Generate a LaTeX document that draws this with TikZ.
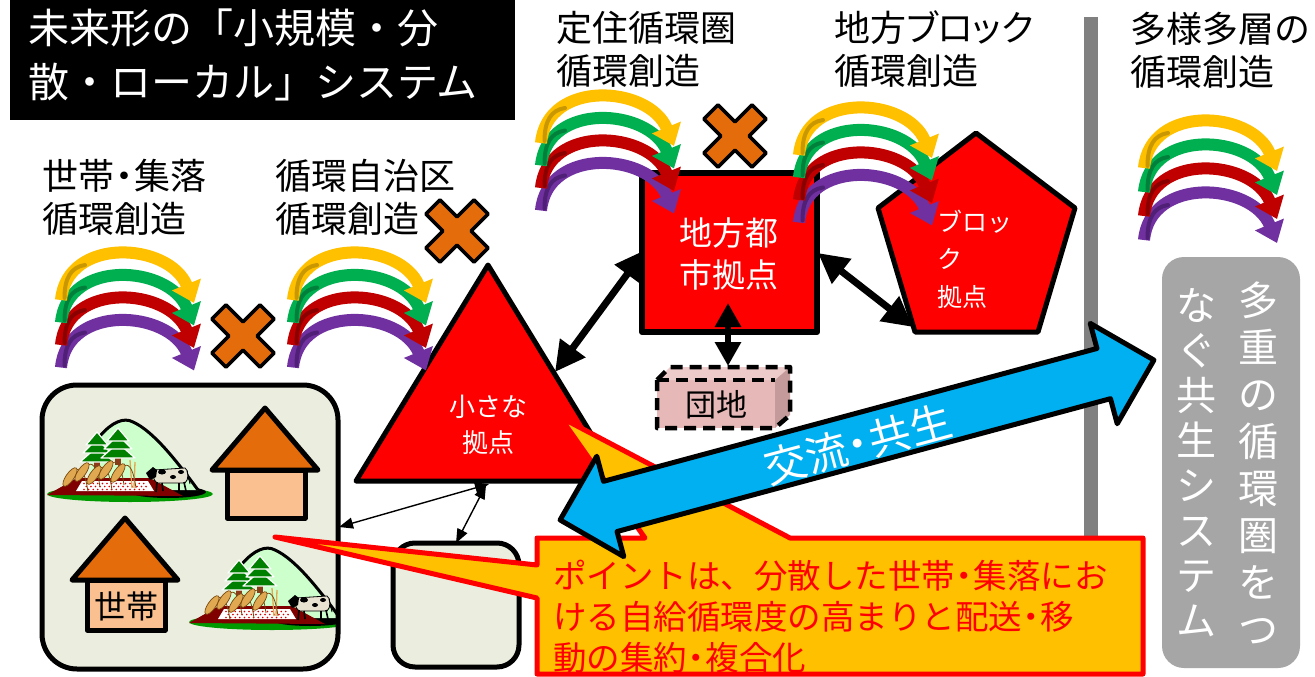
\documentclass[tikz,border=0pt]{standalone}
\usepackage{fontspec}
\newfontfamily\jp{Noto Sans CJK JP}
\usetikzlibrary{arrows.meta}

% tight middle dot
\newcommand\tdot{\kern-0.22em・\kern-0.22em}

\definecolor{hubred}{HTML}{FF0000}
\definecolor{xorange}{HTML}{E46C0A}
\definecolor{roof}{HTML}{E46C0A}
\definecolor{wall}{HTML}{FAC090}
\definecolor{pale}{HTML}{EBEEDF}
\definecolor{dfront}{HTML}{E6B9B8}
\definecolor{dtop}{HTML}{EDCBCA}
\definecolor{dside}{HTML}{C49B9A}
\definecolor{notefill}{HTML}{FFC000}
\definecolor{flow}{HTML}{00B0F0}
\definecolor{railgray}{HTML}{808080}
\definecolor{panelgray}{HTML}{A6A6A6}
\definecolor{lyel}{HTML}{FFC000}\definecolor{dyel}{HTML}{C99700}
\definecolor{lgrn}{HTML}{00B050}\definecolor{dgrn}{HTML}{00803A}
\definecolor{lred}{HTML}{C00000}\definecolor{dred}{HTML}{8A0000}
\definecolor{lpur}{HTML}{7030A0}\definecolor{dpur}{HTML}{4F2075}
\definecolor{grass}{HTML}{009A00}
\definecolor{hill}{HTML}{CCFFCC}
\definecolor{field}{HTML}{800000}
\definecolor{pine}{HTML}{008000}
\definecolor{trunk}{HTML}{8B3A1A}
\definecolor{grain}{HTML}{E0A850}
\definecolor{graindark}{HTML}{7A4A10}
\definecolor{cowhide}{HTML}{E8E2D0}

\tikzset{
  lbl/.style={anchor=west,align=left,inner sep=0pt,font=\jp\fontsize{36}{43}\selectfont},
  titletxt/.style={anchor=west,align=left,inner sep=0pt,text=white,font=\jp\fontsize{41}{54}\selectfont},
  hubtxt/.style={align=center,inner sep=0pt,text=white},
  hubshape/.style={draw=black,line width=5,fill=hubred},
  loopline/.style={line width=12,-{Triangle[width=30pt,length=20pt]}},
  bigtip/.style={line width=7,{Triangle[width=30pt,length=30pt]}-{Triangle[width=30pt,length=30pt]}},
  midtip/.style={line width=6,{Triangle[width=25pt,length=24pt]}-{Triangle[width=25pt,length=24pt]}},
  smalltip/.style={line width=1.4,{Triangle[width=11pt,length=14pt]}-{Triangle[width=11pt,length=14pt]}},
  panel/.style={draw=black,line width=5,fill=pale},
  housepart/.style={draw=black,line width=5},
  vtxt/.style={align=center,inner sep=0pt,text=white,font=\jp\fontsize{40}{47}\selectfont},
}

% four stacked circulation loops; #1,#2 = foot of the top loop, #3 = vertical gap
\newcommand\loopset[3]{%
  \begin{scope}[shift={(#1,#2)}]
    \foreach \lc/\dc/\k in {lpur/dpur/3,lred/dred/2,lgrn/dgrn/1,lyel/dyel/0}{
      \pgfmathsetmacro\dy{\k*#3}
      \draw[loopline,\lc] (0,\dy) .. controls (6,{\dy-64}) and (108,{\dy-58}) .. (133,{\dy+3});
      \draw[\dc,line width=4,line cap=round] (3.5,{\dy-2}) .. controls (3.5,{\dy-22}) and (10,{\dy-33}) .. (24,{\dy-35});
    }
  \end{scope}}

% orange cross mark
\newcommand\crossat[2]{%
  \begin{scope}[shift={(#1,#2)},rotate=45]
    \draw[fill=xorange,line width=3.5] (10,10) -- (10,34) -- (-10,34) -- (-10,10) -- (-34,10) -- (-34,-10)
      -- (-10,-10) -- (-10,-34) -- (10,-34) -- (10,-10) -- (34,-10) -- (34,10) -- cycle;
  \end{scope}}

% farm scene: hill, trees, rice, cow
\newcommand\farmscene[2]{%
  \begin{scope}[shift={(#1,#2)}]
    \fill[grass] (90,114) ellipse [x radius=83, y radius=8];
    \fill[black] (128,112) ellipse [x radius=38, y radius=6];
    \fill[hill] (45,110) -- (56,62) .. controls (70,42) and (84,37) .. (93,42)
      .. controls (113,51) and (136,80) .. (158,110) -- cycle;
    \draw[line width=3] (60,56) .. controls (72,42) and (84,37) .. (93,42)
      .. controls (113,51) and (136,80) .. (158,110);
    \fill[field] (7,115) -- (37,98) -- (110,98) -- (143,116) -- cycle;
    \fill[white] (36,111) -- (42,101) -- (108,101) -- (114,111) -- cycle;
    \foreach \i in {0,...,13}{\foreach \j in {0,1,2}{
      \fill[red!85!black] ({44+\i*4.6+mod(\j,2)*2.3},{103.5+\j*3}) circle (0.9);}}
    \foreach \tx/\ty in {57/52,78/48}{
      \fill[trunk] ({\tx-3},{\ty+28}) rectangle ({\tx+3},{\ty+37});
      \filldraw[fill=pine,draw=white,line width=1.2] (\tx,{\ty+15}) -- ({\tx+17},{\ty+30}) -- ({\tx-17},{\ty+30}) -- cycle;
      \filldraw[fill=pine,draw=white,line width=1.2] (\tx,{\ty+7}) -- ({\tx+14},{\ty+21}) -- ({\tx-14},{\ty+21}) -- cycle;
      \filldraw[fill=pine,draw=white,line width=1.2] (\tx,\ty) -- ({\tx+11},{\ty+13}) -- ({\tx-11},{\ty+13}) -- cycle;
    }
    \draw[grain,line width=1.3] (90,80) -- (92,108) (95,82) -- (94,108);
    \foreach \gx/\gy in {30/97,42/92,54/95,66/90,78/93}{
      \draw[graindark,line width=0.8] ({\gx+6},{\gy-7}) .. controls ({\gx+12},{\gy-11}) and ({\gx+16},\gy) .. ({\gx+18},{\gy+15});
      \filldraw[fill=grain,draw=graindark,line width=0.7,rotate around={55:(\gx,\gy)}] (\gx,\gy) ellipse [x radius=11, y radius=4];
    }
    \filldraw[fill=cowhide,draw=black,line width=0.8] (114,90) -- (145,88) .. controls (149,90) and (149,100) .. (145,103)
      -- (117,103) .. controls (113,100) and (112,94) .. (114,90) -- cycle;
    \fill[black] (122,92) ellipse [x radius=4, y radius=2.5] (133,97) ellipse [x radius=3, y radius=2]
      (141,92) ellipse [x radius=3, y radius=2];
    \fill[black] (106,93) -- (113,87) -- (117,90) -- (116,97) -- (110,100) -- cycle;
    \draw[line width=1.6] (117,102) -- (116,112) (122,103) -- (123,111) (139,103) -- (139,112) (144,102) -- (146,111);
    \draw[line width=0.8] (147,91) -- (150,104);
  \end{scope}}

\begin{document}
\begin{tikzpicture}[x=1pt,y=-1pt,line join=round]
\useasboundingbox (0,0) rectangle (1315,677);
\fill[white] (0,0) rectangle (1315,677);

% title block
\fill[black] (10,0) rectangle (515,120);
\node[titletxt] (title) at (28,55) {未来形の「小規模・分\\散・ローカル」システム};

% level captions
\node[lbl] (lab1) at (42,197) {世帯\tdot 集落\\循環創造};
\node[lbl] (lab2) at (275,197) {循環自治区\\循環創造};
\node[lbl] (lab3) at (556,49) {定住循環圏\\循環創造};
\node[lbl] (lab4) at (834,49) {地方{\addfontfeature{RawFeature=+palt}ブロック}\\循環創造};
\node[lbl] (lab5) at (1130,50) {多様多層の\\循環創造};

% dividing rail
\draw[railgray,line width=14] (1091,17) -- (1091,620);

% settlement panel with houses and farms
\fill[pale,rounded corners=35] (42,385) rectangle (338,669);
\begin{scope}
  \clip[rounded corners=35] (42,385) rectangle (338,669);
  \farmscene{40}{380}
  \farmscene{182}{508}
\end{scope}
\draw[line width=5,rounded corners=35] (42,385) rectangle (338,669);
\draw[housepart,fill=wall] (227,470) rectangle (305,518);
\draw[housepart,fill=roof] (265,408) -- (318,470) -- (212,470) -- cycle;
\draw[housepart,fill=wall] (87,580) rectangle (165,630);
\draw[housepart,fill=roof] (125,518) -- (178,580) -- (72,580) -- cycle;
\node[inner sep=0pt,font=\jp\fontsize{32}{32}\selectfont] (hh) at (126,606) {世帯};

% small panel
\draw[panel,rounded corners=22] (393,543) rectangle (519,667);

% hubs
\draw[hubshape] (488,265) -- (620,481) -- (356,481) -- cycle;
\node[hubtxt,font=\jp\fontsize{26}{36}\selectfont] (small) at (488,425) {小さな\\拠点};
\draw[hubshape,line width=6] (642,173) rectangle (817,332);
\node[hubtxt,font=\jp\fontsize{33}{42}\selectfont] (city) at (729,254) {地方都\\市拠点};
\draw[hubshape] (976,133) -- (1075,208) -- (1038,332) -- (915,332) -- (878,208) -- cycle;
\node[hubtxt,anchor=west,align=left,font=\jp\fontsize{25}{37.5}\selectfont] (block) at (937,259) {ブロッ\\ク\\拠点};

% housing estate block
\fill[dfront] (657,380) rectangle (775,428);
\fill[dtop] (657,380) -- (670,367) -- (790,367) -- (775,380) -- cycle;
\fill[dside] (775,380) -- (790,367) -- (790,415) -- (775,428) -- cycle;
\draw[line width=4.5,dash pattern=on 12pt off 7pt] (657,380) -- (670,367) -- (790,367) -- (790,415) -- (775,428) -- (657,428) -- cycle;
\draw[line width=4.5,dash pattern=on 12pt off 7pt] (657,380) -- (775,380);
\node[inner sep=0pt,font=\jp\fontsize{31}{31}\selectfont] (danchi) at (716,405) {団地};

% links between hubs
\coordinate (cityW) at (645,250);
\coordinate (smallE) at (555,372);
\coordinate (cityE) at (818,253);
\coordinate (blockW) at (913,327);
\coordinate (cityS) at (728,303);
\coordinate (danchiN) at (728,366);
\draw[bigtip] (cityW) -- (smallE);
\draw[bigtip] (cityE) -- (blockW);
\draw[midtip] (cityS) -- (danchiN);
\coordinate (smallS1) at (489,484);
\coordinate (panelE) at (339,527);
\coordinate (smallS2) at (486,485);
\coordinate (boxN) at (456,543);
\draw[smalltip] (smallS1) -- (panelE);
\draw[smalltip] (smallS2) -- (boxN);

% circulation loops
\loopset{61}{300}{22.5}
\loopset{293}{300}{22.5}
\loopset{541}{143}{22.5}
\loopset{799}{155}{22.5}
\loopset{1144}{168}{24}

% cross marks
\crossat{243}{336}
\crossat{457}{231}
\crossat{735}{136}

% callout
\draw[fill=notefill,draw=hubred,line width=5] (537,538) -- (645,538) -- (560,417) -- (790,538) -- (1143,538)
  -- (1143,674) -- (537,674) -- (537,598) -- (275,537) -- (537,565) -- cycle;
\node[anchor=west,align=left,inner sep=0pt,text=hubred,font=\jp\fontsize{33.5}{41}\selectfont] (note) at (553,617)
  {ポイントは、分散した世帯\tdot 集落にお\\ける自給循環度の高まりと配送\tdot 移\\動の集約\tdot 複合化};

% exchange arrow
\begin{scope}[shift={(857,440)},rotate=15.07]
  \draw[fill=flow,line width=5] (-307.5,0) -- (-255.5,-52) -- (-255.5,-26) -- (255.5,-26) -- (255.5,-52) -- (307.5,0)
    -- (255.5,52) -- (255.5,26) -- (-255.5,26) -- (-255.5,52) -- cycle;
  \node[rotate=15.07,inner sep=0pt,text=white,font=\jp\fontsize{42}{42}\selectfont] (flowtxt) at (0,4) {交流\tdot 共生};
\end{scope}

% vertical panel
\fill[panelgray,rounded corners=22] (1162,257) rectangle (1300,668);
\node[vtxt] (vright) at (1258,463) {多\\重\\の\\循\\環\\圏\\を\\つ};
\node[vtxt,font=\jp\fontsize{40}{45}\selectfont] (vleft) at (1196,463) {な\\ぐ\\共\\生\\シ\\ス\\テ\\ム};
\end{tikzpicture}
\end{document}
